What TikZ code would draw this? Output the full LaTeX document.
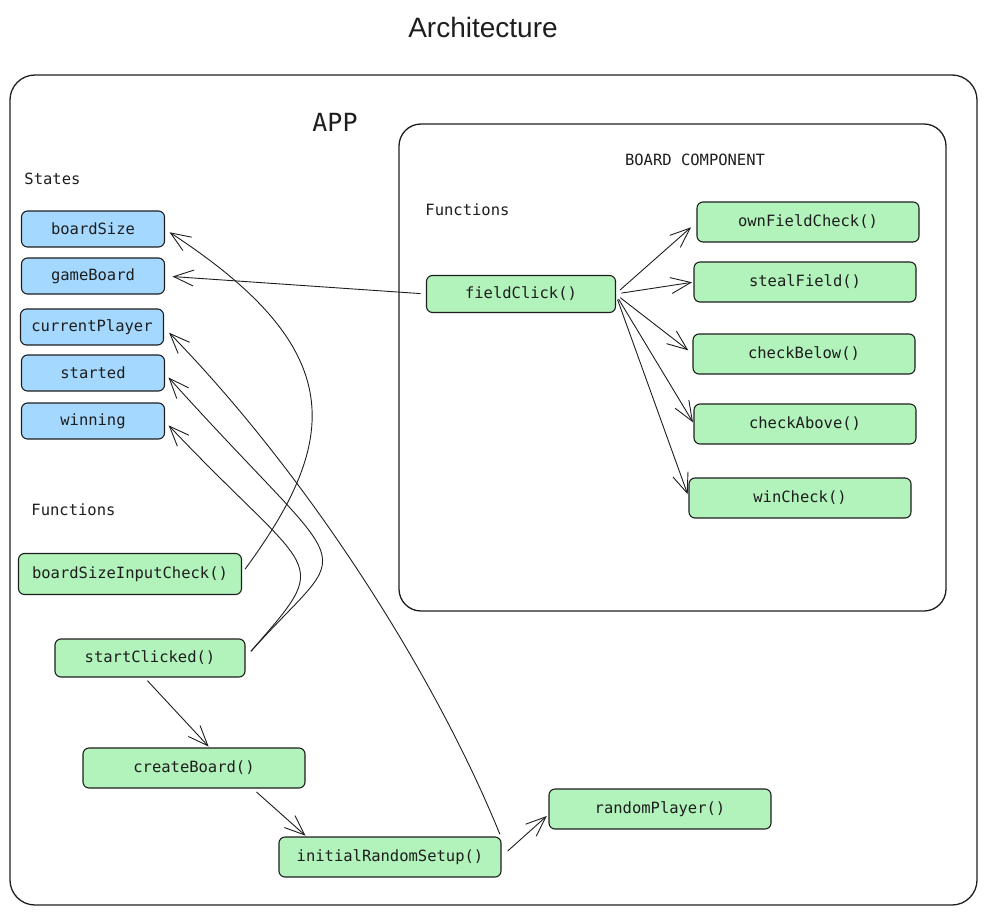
\documentclass[tikz,border=0pt]{standalone}
\usepackage{fontspec}
\setmainfont{Liberation Sans}
\setmonofont{DejaVu Sans Mono}
\usepackage{tikz}
\usetikzlibrary{arrows.meta,positioning,calc}

\definecolor{ink}{HTML}{1E1E1E}
\definecolor{stateblue}{HTML}{A5D8FF}
\definecolor{funcgreen}{HTML}{B2F2BB}
\newcommand{\codefont}{\fontsize{15.5}{18}\selectfont\ttfamily}

\begin{document}
\begin{tikzpicture}[x=1pt, y=-1pt, line width=0.9pt,
    box/.style={draw=ink, line width=1.1pt, rounded corners=6pt, text=ink, font=\codefont, inner sep=0pt, outer sep=0pt},
    statebox/.style={box, fill=stateblue, minimum width=143pt, minimum height=36pt},
    funcbox/.style={box, fill=funcgreen, minimum width=222pt, minimum height=40pt},
    lbl/.style={text=ink, font=\codefont, inner sep=0pt},
    arr/.style={draw=ink, -{Straight Barb[length=20pt,width=16pt]}, shorten <=6pt, shorten >=6pt}]

    \useasboundingbox (0,0) rectangle (987,915);

    % --- containers ---
                \def\Rapp{25}
                \def\Rboard{22}
                \draw[ink, line width=1.3pt, rounded corners=\Rapp] (10,75) rectangle (977,905);
                \draw[ink, line width=1.3pt, rounded corners=\Rboard] (399,124) rectangle (946,611);

    % --- titles and labels ---
                \node[text=ink, font=\fontsize{28}{32}\selectfont] (title) at (483,27) {Architecture};
                \node[text=ink, font=\fontsize{25}{28}\selectfont\ttfamily] (app) at (335,122) {APP};
                \node[lbl] (board) at (695,160) {BOARD COMPONENT};
                \node[lbl, anchor=west] (states) at (24,179) {States};
                \node[lbl, anchor=west] (appfn) at (31,510) {Functions};
                \node[lbl, anchor=west] (boardfn) at (425,210) {Functions};

    % --- states ---
                \node[statebox] (bs) at (93,229) {boardSize};
                \node[statebox] (gb) at (93,276) {gameBoard};
                \node[statebox] (cp) at (92,327) {currentPlayer};
                \node[statebox] (st) at (93,373) {started};
                \node[statebox] (wn) at (93,421) {winning};

    % --- app functions ---
                \node[funcbox, minimum width=223pt, minimum height=41pt] (bsic) at (130,574) {boardSizeInputCheck()};
                \node[funcbox, minimum width=190pt, minimum height=38pt] (sc) at (150,658) {startClicked()};
                \node[funcbox] (cb) at (194,768) {createBoard()};
                \node[funcbox] (irs) at (390,857) {initialRandomSetup()};
                \node[funcbox] (rp) at (660,809) {randomPlayer()};

    % --- board functions ---
                \node[funcbox, minimum width=189pt, minimum height=37pt] (fc) at (521,294) {fieldClick()};
                \node[funcbox] (ofc) at (808,222) {ownFieldCheck()};
                \node[funcbox] (sf) at (805,282) {stealField()};
                \node[funcbox] (cbl) at (804,354) {checkBelow()};
                \node[funcbox] (cab) at (805,424) {checkAbove()};
                \node[funcbox] (wc) at (800,498) {winCheck()};

    % --- fieldClick calls ---
                \draw[arr, shorten >=8pt] (fc.west) -- (gb.east);
                \draw[arr, shorten >=8pt] (fc.east) -- (ofc.west);
                \draw[arr, shorten >=2pt] (fc.east) -- (sf.west);
                \draw[arr] (fc.east) -- (cbl.west);
                \draw[arr, shorten >=2pt] (fc.east) -- (cab.west);
                \draw[arr, shorten >=4pt] (fc.east) -- (wc.west);

    % --- app flow ---
                \draw[arr, shorten <=5pt, shorten >=2pt] ($(sc.south)+(-6,0)$) -- ($(cb.north)+(16,0)$);
                \draw[arr, shorten >=2pt] ($(cb.south)+(58,0)$) -- ($(irs.north west)+(28,0)$);
                \draw[arr, shorten <=9pt, shorten >=3pt] (irs.east) -- ($(rp.west)+(0,5)$);

    % --- state updates (curved) ---
                \draw[arr] (bsic.east) .. controls (340,440) and (350,350) .. (bs.east);
                \draw[arr, shorten <=9pt] (sc.east) .. controls (355,535) and (360,590) .. (st.east);
                \draw[arr, shorten <=9pt] (sc.east) .. controls (335,555) and (315,580) .. (wn.east);
                \draw[arr, shorten <=3pt, shorten >=8pt] (irs.north east) .. controls (433,670) and (305,472) .. (cp.east);

\end{tikzpicture}
\end{document}
